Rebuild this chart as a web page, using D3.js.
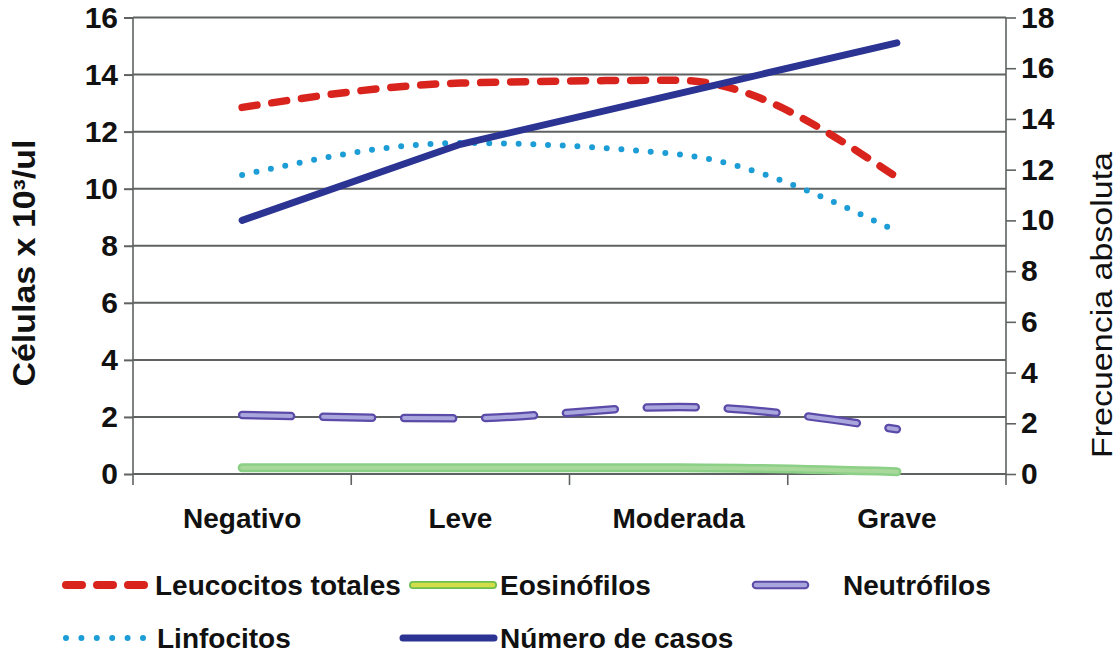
<!DOCTYPE html>
<html><head><meta charset="utf-8">
<script src="https://cdn.jsdelivr.net/npm/d3@7"></script>
<style>
html,body{margin:0;padding:0;background:#fff;}
svg{display:block;font-family:"Liberation Sans",Arial,sans-serif;}
</style></head>
<body>
<svg id="chart" width="1118" height="656"></svg>
<script>
const categories = ["Negativo", "Leve", "Moderada", "Grave"];
const leucocitos = [12.85, 13.7, 13.8, 10.4];
const linfocitos = [10.48, 11.6, 11.2, 8.5];
const neutrofilos = [2.07, 1.95, 2.35, 1.57];
const eosinofilos = [0.22, 0.22, 0.22, 0.08];
const casos = [10, 13, 15, 17];
const leftTicks = [0, 2, 4, 6, 8, 10, 12, 14, 16];
const rightTicks = [0, 2, 4, 6, 8, 10, 12, 14, 16, 18];
const leftTitle = "Células x 10³/ul";
const rightTitle = "Frecuencia absoluta";
const legendLabels = ["Leucocitos totales", "Eosinófilos", "Neutrófilos", "Linfocitos", "Número de casos"];

const svg = d3.select("#chart");
const L = 133, R = 1006, T = 17.5, B = 474;
const x = d3.scaleBand().domain(categories).range([L, R]);
const cx = c => x(c) + x.bandwidth() / 2;
const yL = d3.scaleLinear().domain([0, 16]).range([B, T]);
const yR = d3.scaleLinear().domain([0, 18]).range([B, T]);
const gridCol = "#5f6262";

// gridlines
svg.append("g").selectAll("line").data(leftTicks).join("line")
  .attr("x1", L).attr("x2", R).attr("y1", d => yL(d)).attr("y2", d => yL(d))
  .attr("stroke", gridCol).attr("stroke-width", 2);

// left axis
const gl = svg.append("g").attr("transform", `translate(${L},0)`)
  .call(d3.axisLeft(yL).tickValues(leftTicks).tickSize(9).tickPadding(6).tickSizeOuter(0));
gl.select(".domain").attr("stroke", gridCol).attr("stroke-width", 1.6).attr("d", `M0,${T}V${B + 11}`);
gl.selectAll(".tick line").attr("stroke", gridCol).attr("stroke-width", 2);
gl.selectAll(".tick text").attr("font-size", 30).attr("font-weight", "bold").attr("fill", "#111");

// right axis
const gr = svg.append("g").attr("transform", `translate(${R},0)`)
  .call(d3.axisRight(yR).tickValues(rightTicks).tickSize(10).tickPadding(5).tickSizeOuter(0));
gr.select(".domain").attr("stroke", gridCol).attr("stroke-width", 1.6).attr("d", `M0,${T}V${B + 11}`);
gr.selectAll(".tick line").attr("stroke", gridCol).attr("stroke-width", 1.6);
gr.selectAll(".tick text").attr("font-size", 30).attr("font-weight", "bold").attr("fill", "#111");

// bottom axis ticks at category boundaries
const bounds = categories.map(c => x(c)).concat([R]);
svg.append("g").selectAll("line").data(bounds.slice(1, 4)).join("line")
  .attr("x1", d => d).attr("x2", d => d).attr("y1", B).attr("y2", B + 11)
  .attr("stroke", gridCol).attr("stroke-width", 1.6);
svg.append("g").selectAll("text").data(categories).join("text")
  .attr("x", d => cx(d)).attr("y", 528).attr("text-anchor", "middle")
  .attr("font-size", 28).attr("font-weight", "bold").attr("fill", "#111").text(d => d);

// titles
svg.append("text").attr("transform", "translate(35,263) rotate(-90)")
  .attr("text-anchor", "middle").attr("font-size", 31).attr("font-weight", "bold").attr("fill", "#111")
  .attr("textLength", 247).attr("lengthAdjust", "spacingAndGlyphs").text(leftTitle);
svg.append("text").attr("transform", "translate(1112,305) rotate(-90)")
  .attr("text-anchor", "middle").attr("font-size", 29).attr("fill", "#111")
  .attr("textLength", 306).attr("lengthAdjust", "spacingAndGlyphs").text(rightTitle);

const curve = d3.curveMonotoneX;
const lineL = d3.line().x((d, i) => cx(categories[i])).y(d => yL(d)).curve(curve);
const lineR = d3.line().x((d, i) => cx(categories[i])).y(d => yR(d)).curve(d3.curveLinear);

// eosinofilos
svg.append("path").attr("d", lineL(eosinofilos)).attr("fill", "none")
  .attr("stroke", "#8ccf86").attr("stroke-width", 9).attr("stroke-linecap", "round");
svg.append("path").attr("d", lineL(eosinofilos)).attr("fill", "none")
  .attr("stroke", "#a9d99a").attr("stroke-width", 4).attr("stroke-linecap", "round");

// neutrofilos
svg.append("path").attr("d", lineL(neutrofilos)).attr("fill", "none")
  .attr("stroke", "#5b4aa8").attr("stroke-width", 8.5).attr("stroke-linecap", "round")
  .attr("stroke-dasharray", "49 32");
svg.append("path").attr("d", lineL(neutrofilos)).attr("fill", "none")
  .attr("stroke", "#a8a6dc").attr("stroke-width", 4).attr("stroke-linecap", "round")
  .attr("stroke-dasharray", "49 32");

// linfocitos
svg.append("path").attr("d", lineL(linfocitos)).attr("fill", "none")
  .attr("stroke", "#1c9dd6").attr("stroke-width", 6).attr("stroke-linecap", "round")
  .attr("stroke-dasharray", "0 14.7");

// leucocitos
svg.append("path").attr("d", lineL(leucocitos)).attr("fill", "none")
  .attr("stroke", "#d9231d").attr("stroke-width", 7.5).attr("stroke-linecap", "round")
  .attr("stroke-dasharray", "15 15");

// numero de casos
svg.append("path").attr("d", lineR(casos)).attr("fill", "none")
  .attr("stroke", "#2b3393").attr("stroke-width", 7).attr("stroke-linecap", "round");

// legend
const lg = svg.append("g");
function legText(xp, yp, t) {
  lg.append("text").attr("x", xp).attr("y", yp).attr("font-size", 28).attr("font-weight", "bold")
    .attr("fill", "#111").text(t);
}
lg.append("line").attr("x1", 66).attr("x2", 148).attr("y1", 585).attr("y2", 585)
  .attr("stroke", "#d9231d").attr("stroke-width", 8).attr("stroke-linecap", "round").attr("stroke-dasharray", "16 15");
legText(155, 595, legendLabels[0]);
lg.append("line").attr("x1", 413).attr("x2", 493).attr("y1", 585).attr("y2", 585)
  .attr("stroke", "#6fbf4f").attr("stroke-width", 8).attr("stroke-linecap", "round");
lg.append("line").attr("x1", 413).attr("x2", 493).attr("y1", 585).attr("y2", 585)
  .attr("stroke", "#d3df4a").attr("stroke-width", 4.5).attr("stroke-linecap", "round");
legText(500, 595, legendLabels[1]);
lg.append("line").attr("x1", 756).attr("x2", 805).attr("y1", 585).attr("y2", 585)
  .attr("stroke", "#5b4aa8").attr("stroke-width", 8.5).attr("stroke-linecap", "round");
lg.append("line").attr("x1", 756).attr("x2", 805).attr("y1", 585).attr("y2", 585)
  .attr("stroke", "#a8a6dc").attr("stroke-width", 4.5).attr("stroke-linecap", "round");
legText(843, 595, legendLabels[2]);
lg.append("line").attr("x1", 66).attr("x2", 150).attr("y1", 638).attr("y2", 638)
  .attr("stroke", "#1c9dd6").attr("stroke-width", 6).attr("stroke-linecap", "round").attr("stroke-dasharray", "0 15.4");
legText(157, 648, legendLabels[3]);
lg.append("line").attr("x1", 403).attr("x2", 494).attr("y1", 638).attr("y2", 638)
  .attr("stroke", "#2b3393").attr("stroke-width", 7).attr("stroke-linecap", "round");
legText(500, 648, legendLabels[4]);
</script>
</body></html>
